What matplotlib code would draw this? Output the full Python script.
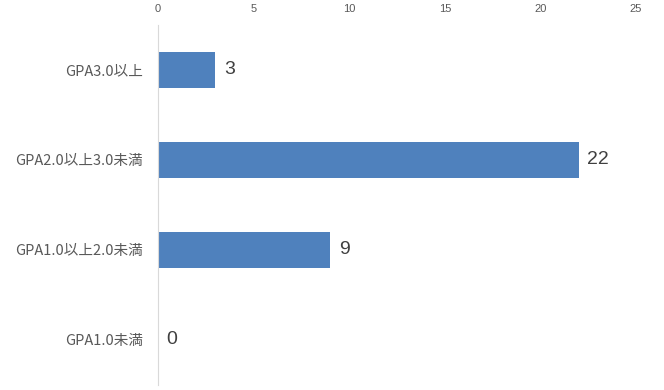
import matplotlib
matplotlib.use("Agg")
import matplotlib.pyplot as plt

plt.rcParams['font.family'] = ['Noto Sans CJK JP', 'DejaVu Sans']

categories = ["GPA3.0以上", "GPA2.0以上3.0未満", "GPA1.0以上2.0未満", "GPA1.0未満"]
counts = [3, 22, 9, 0]
xticks = [0, 5, 10, 15, 20, 25]

fig = plt.figure(figsize=(6.64, 3.9), dpi=100)
ax = fig.add_axes([0.238, 0.013, 0.72, 0.923])

ypos = list(range(len(categories)))
ax.barh(ypos, counts, height=0.4, color="#4F81BD")
for y, v in zip(ypos, counts):
    ax.text(v + 0.45, y, str(v), va="center", ha="left", fontsize=14,
            color="#404040", family=['Liberation Sans', 'DejaVu Sans'])

ax.set_ylim(3.5, -0.5)
ax.set_xlim(0, 25)
ax.set_yticks(ypos)
ax.set_yticklabels(categories, fontsize=10.5, color="#595959")
ax.set_xticks(xticks)
ax.set_xticklabels([str(t) for t in xticks], fontsize=8, color="#595959",
                   family=['Liberation Sans', 'DejaVu Sans'])
ax.xaxis.tick_top()
ax.tick_params(length=0)
ax.tick_params(axis='x', pad=8)
ax.tick_params(axis='y', pad=11)
for s in ["top", "right", "bottom"]:
    ax.spines[s].set_visible(False)
ax.spines["left"].set_color("#d9d9d9")

fig.savefig("out.png", dpi=100)
